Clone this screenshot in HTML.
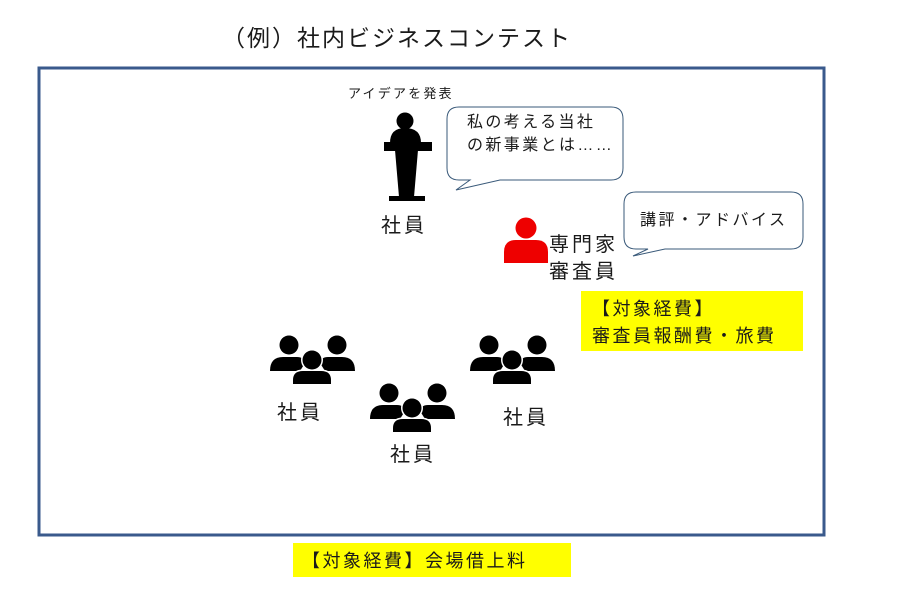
<!DOCTYPE html>
<html><head><meta charset="utf-8"><style>
html,body{margin:0;padding:0;background:#fff;}
svg{display:block}
text{font-family:"Liberation Sans","Noto Sans CJK JP",sans-serif;fill:#1a1a1a}
</style></head><body>
<svg width="903" height="602" viewBox="0 0 903 602" xmlns="http://www.w3.org/2000/svg">
<text x="222" y="46" font-size="23" letter-spacing="2">（例）社内ビジネスコンテスト</text>
<rect x="39" y="68" width="785" height="467" fill="none" stroke="#3a5a8c" stroke-width="3"/>
<text x="348" y="98" font-size="13" letter-spacing="2.2">アイデアを発表</text>
<!-- podium person -->
<circle cx="405" cy="121" r="8.5" fill="#000"/>
<path d="M390 143 Q390 128 405 128 Q421 128 421 143 Z" fill="#000"/>
<rect x="384" y="142" width="48" height="9" fill="#000"/>
<path d="M395 150 L418 150 L414 197 L399 197 Z" fill="#000"/>
<rect x="389" y="196" width="36" height="5" fill="#000"/>
<text x="381" y="232" font-size="20" letter-spacing="3">社員</text>
<!-- bubble 1 -->
<path d="M459 107 L611 107 Q623 107 623 119 L623 168 Q623 180 611 180 L500 180 L456 190 L470 180 L459 180 Q447 180 447 168 L447 119 Q447 107 459 107 Z" fill="#fff" stroke="#3a5a7a" stroke-width="1"/>
<text x="467" y="127" font-size="16" letter-spacing="2.4">私の考える当社</text>
<text x="467" y="150" font-size="16" letter-spacing="2.4">の新事業とは……</text>
<!-- bubble 2 -->
<path d="M636 192 L791 192 Q803 192 803 204 L803 237 Q803 249 791 249 L665 249 L633 256 L648 249 L636 249 Q624 249 624 237 L624 204 Q624 192 636 192 Z" fill="#fff" stroke="#3a5a7a" stroke-width="1"/>
<text x="640" y="225" font-size="16" letter-spacing="2.5">講評・アドバイス</text>
<!-- red person -->
<circle cx="526" cy="228" r="10.5" fill="#e00"/>
<path d="M504 263 L504 252 Q504 240 516 240 L536 240 Q548 240 548 252 L548 263 Z" fill="#e00"/>
<text x="549" y="251" font-size="20" letter-spacing="3">専門家</text>
<text x="549" y="278" font-size="20" letter-spacing="3">審査員</text>
<rect x="581" y="291" width="222" height="60" fill="#ffff00"/>
<text x="592" y="315" font-size="18" letter-spacing="2.5">【対象経費】</text>
<text x="592" y="342" font-size="18" letter-spacing="2.5">審査員報酬費・旅費</text>
<!-- groups -->
<defs>
<g id="grp">
<circle cx="19" cy="9" r="9.5" fill="#000"/>
<circle cx="67" cy="9" r="9.5" fill="#000"/>
<path d="M0 35 Q0 21 13 21 L27 21 Q34 21 35 27 L30 35 Z" fill="#000"/>
<path d="M85 35 Q85 21 72 21 L58 21 Q51 21 50 27 L55 35 Z" fill="#000"/>
<circle cx="42" cy="24" r="11" fill="#fff"/>
<circle cx="42" cy="24" r="9.5" fill="#000"/>
<path d="M23 48 L23 44 Q23 35 33 35 L51 35 Q61 35 61 44 L61 48 Z" fill="#fff" stroke="#fff" stroke-width="3"/>
<path d="M23 48 L23 44 Q23 35 33 35 L51 35 Q61 35 61 44 L61 48 Z" fill="#000"/>
</g>
</defs>
<use href="#grp" x="270" y="336"/>
<use href="#grp" x="370" y="384"/>
<use href="#grp" x="470" y="336"/>
<text x="277" y="419" font-size="20" letter-spacing="3">社員</text>
<text x="390" y="461" font-size="20" letter-spacing="3">社員</text>
<text x="503" y="424" font-size="20" letter-spacing="3">社員</text>
<rect x="293" y="543" width="278" height="34" fill="#ffff00"/>
<text x="302" y="567" font-size="18" letter-spacing="2.5">【対象経費】会場借上料</text>
</svg>
</body></html>
